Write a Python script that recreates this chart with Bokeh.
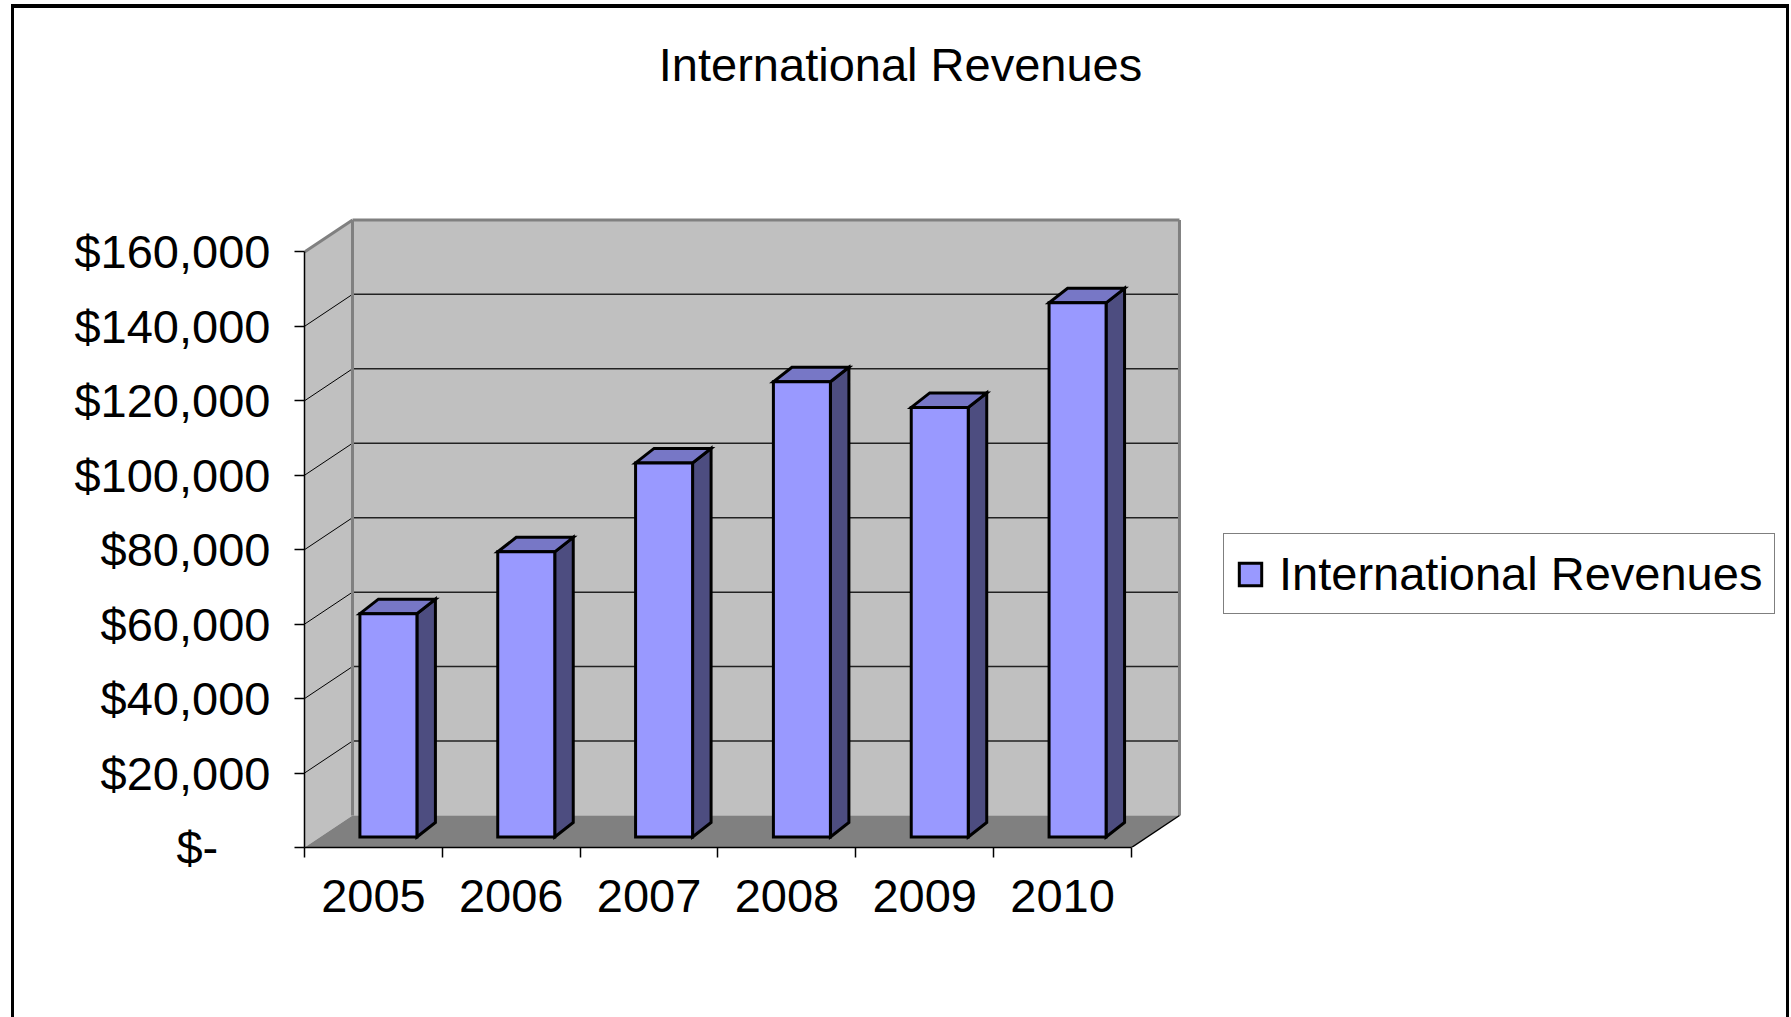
from bokeh.plotting import figure
from bokeh.models import FixedTicker, Range1d, Label, Legend, LegendItem
from bokeh.embed import file_html
from bokeh.resources import INLINE

# ---------------- data ----------------
chart_title = "International Revenues"
years = ["2005", "2006", "2007", "2008", "2009", "2010"]
revenues = [60000, 76600, 100500, 122300, 115400, 143500]
y_ticks = [0, 20000, 40000, 60000, 80000, 100000, 120000, 140000, 160000]
y_tick_labels = ["$-\u2007\u2007", "$20,000", "$40,000", "$60,000", "$80,000",
                 "$100,000", "$120,000", "$140,000", "$160,000"]

# ---------------- layout / geometry ----------------
W, H = 1791, 1017
LEFT, BOTTOM = 304, 170
PX_X = 137.83              # pixels per category
PX_Y = 74.45 / 20000       # pixels per currency unit
frame_w = W - LEFT
frame_h = H - BOTTOM
x_end = frame_w / PX_X
y_end = frame_h / PX_Y

n = len(years)
ymax = y_ticks[-1]
DX, DY = 48 / PX_X, 32 / PX_Y          # wall depth offset
BX0, BY0 = 15 / PX_X, 10.5 / PX_Y      # bar front face offset
BDX, BDY = 18.5 / PX_X, 14.5 / PX_Y    # bar depth
BW = 57 / PX_X                         # bar width

FONT = "Liberation Sans"
FS = "47px"

p = figure(width=W, height=H, output_backend="svg", toolbar_location=None,
           x_range=Range1d(0, x_end), y_range=Range1d(0, y_end),
           min_border_left=LEFT, min_border_right=0, min_border_top=0,
           min_border_bottom=BOTTOM)
p.outline_line_color = None
p.grid.visible = False
p.background_fill_alpha = 0
p.border_fill_alpha = 0
# outer picture frame (drawn as the page element's background behind the transparent canvas)
p.styles = {
    "background-color": "white",
    "background-image": "linear-gradient(#000,#000), linear-gradient(#000,#000), linear-gradient(#000,#000)",
    "background-size": "3px 1013px, 1778px 4px, 3px 1013px",
    "background-position": "11px 4px, 11px 4px, 1786px 4px",
    "background-repeat": "no-repeat",
}

# walls and floor
p.quad(left=DX, right=n + DX, bottom=DY, top=ymax + DY,
       fill_color="#C0C0C0", line_color=None)
p.patch([0, DX, DX, 0], [0, DY, ymax + DY, ymax],
        fill_color="#C0C0C0", line_color=None)
p.patch([0, n, n + DX, DX], [0, 0, DY, DY],
        fill_color="#808080", line_color=None)

# gridlines on the walls
grid_vals = y_ticks[1:-1]
p.segment(x0=[DX] * len(grid_vals), x1=[n + DX] * len(grid_vals),
          y0=[v + DY for v in grid_vals], y1=[v + DY for v in grid_vals],
          line_color="#222222", line_width=1.5)
p.segment(x0=[0] * len(grid_vals), x1=[DX] * len(grid_vals),
          y0=grid_vals, y1=[v + DY for v in grid_vals],
          line_color="black", line_width=1)

# wall edges
p.multi_line(xs=[[DX, DX], [DX, n + DX], [n + DX, n + DX], [0, DX]],
             ys=[[DY, ymax + DY], [ymax + DY, ymax + DY], [DY, ymax + DY], [ymax, ymax + DY]],
             line_color="#808080", line_width=3)
p.line([n, n + DX], [0, DY], line_color="black", line_width=1.5)

# bars
xl = [i + 0.5 + BX0 - BW / 2 for i in range(n)]
xr = [x + BW for x in xl]
side_xs = [[r, r + BDX, r + BDX, r] for r in xr]
side_ys = [[BY0, BY0 + BDY, v + BY0 + BDY, v + BY0] for v in revenues]
top_xs = [[l, r, r + BDX, l + BDX] for l, r in zip(xl, xr)]
top_ys = [[v + BY0, v + BY0, v + BY0 + BDY, v + BY0 + BDY] for v in revenues]
p.patches(side_xs, side_ys, fill_color="#4D4D80", line_color="black",
          line_width=3, line_join="miter")
p.patches(top_xs, top_ys, fill_color="#7777C6", line_color="black",
          line_width=3, line_join="miter")
front = p.quad(left=xl, right=xr, bottom=[BY0] * n, top=[v + BY0 for v in revenues],
               fill_color="#9999FF", line_color="black", line_width=3,
               line_join="miter")

# axes
ya = p.yaxis[0]
ya.ticker = FixedTicker(ticks=y_ticks, minor_ticks=[])
ya.major_label_overrides = {t: lab for t, lab in zip(y_ticks, y_tick_labels)}
ya.bounds = (0, ymax)
ya.axis_line_color = "black"
ya.axis_line_width = 1.5
ya.major_tick_line_color = "black"
ya.major_tick_line_width = 1.5
ya.major_tick_out = 10
ya.major_tick_in = 0
ya.minor_tick_line_color = None
ya.major_label_standoff = 24
ya.major_label_text_font = FONT
ya.major_label_text_font_size = FS
ya.major_label_text_color = "black"

xa = p.xaxis[0]
xa.ticker = FixedTicker(ticks=[i + 0.5 for i in range(n)],
                        minor_ticks=list(range(n + 1)))
xa.major_label_overrides = {i + 0.5: y for i, y in enumerate(years)}
xa.bounds = (0, n)
xa.axis_line_color = "black"
xa.axis_line_width = 1.5
xa.major_tick_line_color = None
xa.major_tick_out = 0
xa.major_tick_in = 0
xa.minor_tick_line_color = "black"
xa.minor_tick_line_width = 1.5
xa.minor_tick_out = 10
xa.minor_tick_in = 0
xa.major_label_standoff = 22
xa.major_label_text_font = FONT
xa.major_label_text_font_size = FS
xa.major_label_text_color = "black"

# title
p.add_layout(Label(x=900 - LEFT, y=frame_h - 64, x_units="screen", y_units="screen",
                   text=chart_title, text_align="center", text_baseline="middle",
                   text_font=FONT, text_font_size=FS, text_color="black"))

# legend
legend = Legend(items=[LegendItem(label=chart_title, renderers=[front])],
                location=(1223 - LEFT, frame_h - 614),
                border_line_color="black", border_line_width=1,
                background_fill_color="white", background_fill_alpha=1,
                label_text_font=FONT, label_text_font_size=FS,
                label_text_color="black",
                glyph_width=28, glyph_height=28, label_standoff=15,
                padding=12, margin=0, spacing=0)
p.add_layout(legend)

open("out.html", "w").write(file_html(p, INLINE))
